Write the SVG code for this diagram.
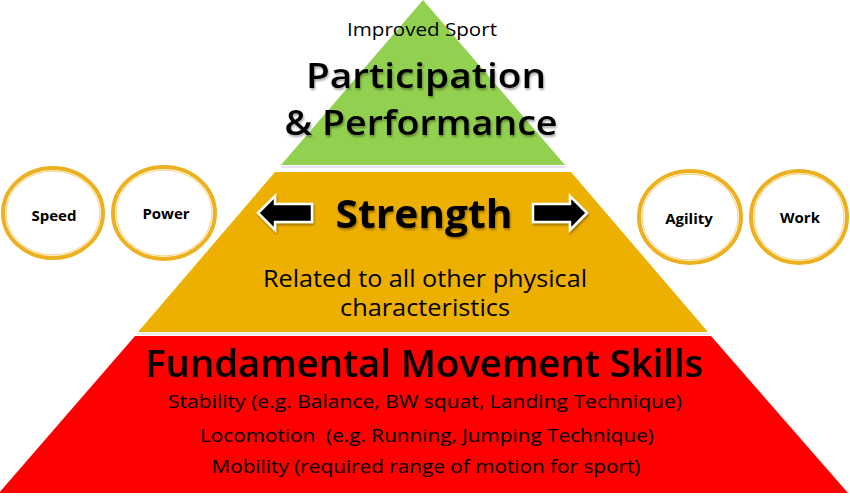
<svg xmlns="http://www.w3.org/2000/svg" width="850" height="497" viewBox="0 0 850 497">
<defs>
<style>
.t{font-family:"Open Sans","Noto Sans","Liberation Sans",sans-serif;fill:#000;text-anchor:middle}
.ring{fill:#fff;stroke:#EDB120;stroke-width:4}
.ringin{fill:none;stroke:#F7D27A;stroke-width:1}
.arrow{fill:#000;stroke:#fff;stroke-width:2.5;stroke-linejoin:miter}
.ct{font-family:"Open Sans","Liberation Sans",sans-serif;font-weight:700;font-size:15px;text-anchor:middle;fill:#000}
</style>
<filter id="sh" x="-10%" y="-10%" width="120%" height="130%">
<feGaussianBlur in="SourceAlpha" stdDeviation="1.2"/>
<feOffset dx="1" dy="2" result="b"/>
<feComponentTransfer><feFuncA type="linear" slope="0.35"/></feComponentTransfer>
<feMerge><feMergeNode/><feMergeNode in="SourceGraphic"/></feMerge>
</filter>
</defs>
<rect width="850" height="497" fill="#fff"/>
<g id="level-top">
<polygon points="423,0 281,165 565,165" fill="#92D050"/>
<line x1="281" y1="167" x2="565" y2="167" stroke="#C9C9E0" stroke-width="1"/>
<text class="t" x="422" y="36" font-size="18" textLength="150" lengthAdjust="spacingAndGlyphs">Improved Sport</text>
<text class="t" x="426" y="88" font-size="35" font-weight="600" textLength="240" lengthAdjust="spacingAndGlyphs" filter="url(#sh)">Participation</text>
<text class="t" x="421" y="135" font-size="35" font-weight="600" textLength="273" lengthAdjust="spacingAndGlyphs" filter="url(#sh)">&amp; Performance</text>
</g>
<g id="level-middle">
<polygon points="275,172 571,172 708,332 138,332" fill="#EEB000"/>
<line x1="137" y1="334" x2="710" y2="334" stroke="#F2C9C9" stroke-width="1"/>
<text class="t" x="424" y="228" font-size="40" font-weight="700" textLength="177" lengthAdjust="spacingAndGlyphs" filter="url(#sh)">Strength</text>
<text class="t" x="425" y="287" font-size="23" textLength="324" lengthAdjust="spacingAndGlyphs">Related to all other physical</text>
<text class="t" x="425" y="316" font-size="23" textLength="170" lengthAdjust="spacingAndGlyphs">characteristics</text>
</g>
<g id="level-bottom">
<polygon points="135,336 711,336 848,493 -1,493" fill="#FF0000"/>
<text class="t" x="424" y="377" font-size="38" font-weight="600" textLength="558" lengthAdjust="spacingAndGlyphs">Fundamental Movement Skills</text>
<text class="t" x="425" y="408" font-size="19" textLength="514" lengthAdjust="spacingAndGlyphs">Stability (e.g. Balance, BW squat, Landing Technique)</text>
<text class="t" x="427" y="442" font-size="19" textLength="454" lengthAdjust="spacingAndGlyphs">Locomotion&#160; (e.g. Running, Jumping Technique)</text>
<text class="t" x="426" y="473" font-size="19" textLength="429" lengthAdjust="spacingAndGlyphs">Mobility (required range of motion for sport)</text>
</g>
<g id="connectors">
<polygon class="arrow" filter="url(#sh)" points="258,213 275,196 275,204 312,204 312,222 275,222 275,230"/>
<polygon class="arrow" filter="url(#sh)" points="587,213 570,196 570,204 533,204 533,222 570,222 570,230"/>
</g>
<g id="speed">
<ellipse class="ring" cx="53" cy="213" rx="50" ry="45"/>
<ellipse class="ringin" cx="53" cy="213" rx="47" ry="42"/>
<text class="ct" x="54" y="221">Speed</text>
</g>
<g id="power">
<ellipse class="ring" cx="164" cy="213" rx="51" ry="46"/>
<ellipse class="ringin" cx="164" cy="213" rx="48" ry="43"/>
<text class="ct" x="166" y="219">Power</text>
</g>
<g id="agility">
<ellipse class="ring" cx="690" cy="217" rx="51" ry="46"/>
<ellipse class="ringin" cx="690" cy="217" rx="48" ry="43"/>
<text class="ct" x="689" y="224">Agility</text>
</g>
<g id="work">
<ellipse class="ring" cx="799" cy="217" rx="48" ry="46"/>
<ellipse class="ringin" cx="799" cy="217" rx="45" ry="43"/>
<text class="ct" x="800" y="223">Work</text>
</g>
</svg>
